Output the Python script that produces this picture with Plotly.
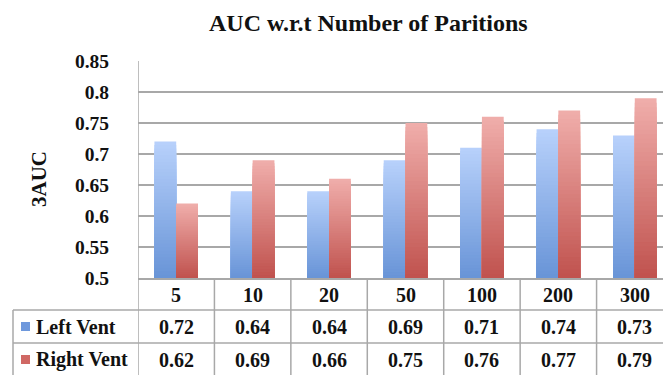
import plotly.graph_objects as go

# ---------------- data ----------------
categories = ["5", "10", "20", "50", "100", "200", "300"]
left_vent = [0.72, 0.64, 0.64, 0.69, 0.71, 0.74, 0.73]
right_vent = [0.62, 0.69, 0.66, 0.75, 0.76, 0.77, 0.79]
series_names = ["Left Vent", "Right Vent"]
y_tickvals = [0.5, 0.55, 0.6, 0.65, 0.7, 0.75, 0.8, 0.85]
y_ticktext = ["0.5", "0.55", "0.6", "0.65", "0.7", "0.75", "0.8", "0.85"]
title_text = "AUC w.r.t Number of Paritions"
y_title = "3AUC"

# ---------------- styling ----------------
W, H = 671, 375
PL, PR, PT, PB = 130, 665, 53, 270   # plot area in pixels
FONT = "Liberation Serif"
GRID = "#a8a8a8"
TXT = "#111111"
Y0 = 0.5

grad = {
    "Left Vent": ((104, 148, 215), (184, 209, 251)),   # bottom, top
    "Right Vent": ((192, 82, 78), (240, 174, 171)),
}
key_col = {"Left Vent": "rgb(110,152,220)", "Right Vent": "rgb(208,104,100)"}


def px_x(p):
    return (p - PL) / (PR - PL)


def px_y(p):
    return (PB - p) / (PB - PT)


fig = go.Figure()

N = 40
for name, vals, grp in [("Left Vent", left_vent, "L"), ("Right Vent", right_vent, "R")]:
    bot, top = grad[name]
    # draw from the tallest (lightest) down to the shortest (darkest), each from the base,
    # so that successive layers overlap with no seams
    for k in range(N - 1, -1, -1):
        f = (k + 0.5) / N
        c = tuple(round(bot[i] + (top[i] - bot[i]) * f) for i in range(3))
        h = [(v - Y0) * (k + 1) / N for v in vals]
        fig.add_trace(go.Bar(
            x=categories, y=h, base=[Y0] * len(vals), offsetgroup=grp, name=name,
            marker=dict(color="rgb(%d,%d,%d)" % c, line=dict(width=0)),
            showlegend=False, hoverinfo="skip",
        ))

shapes = []
annotations = []

# table geometry (pixels)
row_top = [270, 302, 335]
row_bot = 368
tab_left = 5

for yy in [302, 335, 368]:
    shapes.append(dict(type="line", xref="paper", yref="paper",
                       x0=px_x(tab_left), x1=px_x(PR), y0=px_y(yy), y1=px_y(yy),
                       line=dict(color=GRID, width=1.5)))
shapes.append(dict(type="line", xref="paper", yref="paper",
                   x0=px_x(tab_left), x1=px_x(tab_left), y0=px_y(302), y1=px_y(row_bot),
                   line=dict(color=GRID, width=1.5)))
for i in range(len(categories) + 1):
    y_start = px_y(PT) if i == 0 else px_y(PB)
    shapes.append(dict(type="line", xref="x", yref="paper",
                       x0=i - 0.5, x1=i - 0.5, y0=y_start, y1=px_y(row_bot),
                       line=dict(color=GRID, width=1.5)))

for i, c in enumerate(categories):
    annotations.append(dict(x=i, y=px_y(287), xref="x", yref="paper", text=c,
                            showarrow=False, font=dict(family=FONT, size=20, color=TXT),
                            xanchor="center", yanchor="middle"))

for r, (name, vals) in enumerate([("Left Vent", left_vent), ("Right Vent", right_vent)]):
    yc = (row_top[r + 1] + (row_top[r + 2] if r + 2 < len(row_top) else row_bot)) / 2
    for i, v in enumerate(vals):
        annotations.append(dict(x=i, y=px_y(yc), xref="x", yref="paper", text=f"{v:.2f}",
                                showarrow=False, font=dict(family=FONT, size=20, color=TXT),
                                xanchor="center", yanchor="middle"))
    annotations.append(dict(x=px_x(26), y=px_y(yc), xref="paper", yref="paper", text=name,
                            showarrow=False, font=dict(family=FONT, size=20, color=TXT),
                            xanchor="left", yanchor="middle"))
    shapes.append(dict(type="rect", xref="paper", yref="paper",
                       x0=px_x(13), x1=px_x(22), y0=px_y(yc - 4.5), y1=px_y(yc + 4.5),
                       fillcolor=key_col[name], line=dict(width=0)))

annotations.append(dict(x=px_x(360), y=px_y(15), xref="paper", yref="paper", text=title_text,
                        showarrow=False, font=dict(family=FONT, size=24, color=TXT),
                        xanchor="center", yanchor="middle"))
annotations.append(dict(x=px_x(31), y=px_y(171), xref="paper", yref="paper", text=y_title,
                        textangle=-90, showarrow=False,
                        font=dict(family=FONT, size=21, color=TXT),
                        xanchor="center", yanchor="middle"))

fig.update_layout(
    width=W, height=H,
    margin=dict(l=PL, r=W - PR, t=PT, b=H - PB, pad=0),
    paper_bgcolor="white", plot_bgcolor="white",
    barmode="group", bargap=0.43, bargroupgap=0.0,
    showlegend=False,
    shapes=shapes, annotations=annotations,
    xaxis=dict(type="category", range=[-0.5, len(categories) - 0.5],
               showticklabels=False, showgrid=False, zeroline=False,
               showline=True, linecolor=GRID, linewidth=1.5, ticks=""),
    yaxis=dict(range=[0.5, 0.85], tickvals=y_tickvals, ticktext=y_ticktext,
               showgrid=True, gridcolor=GRID, gridwidth=1.5, zeroline=False,
               showline=False, ticks="", ticklabelstandoff=28,
               tickfont=dict(family=FONT, size=19.5, color=TXT)),
    font=dict(family=FONT, color=TXT),
)
fig.update_layout(font_weight="bold")
for a in fig.layout.annotations:
    a.font.weight = "bold"
fig.layout.yaxis.tickfont.weight = "bold"

fig.write_html("out.html")
